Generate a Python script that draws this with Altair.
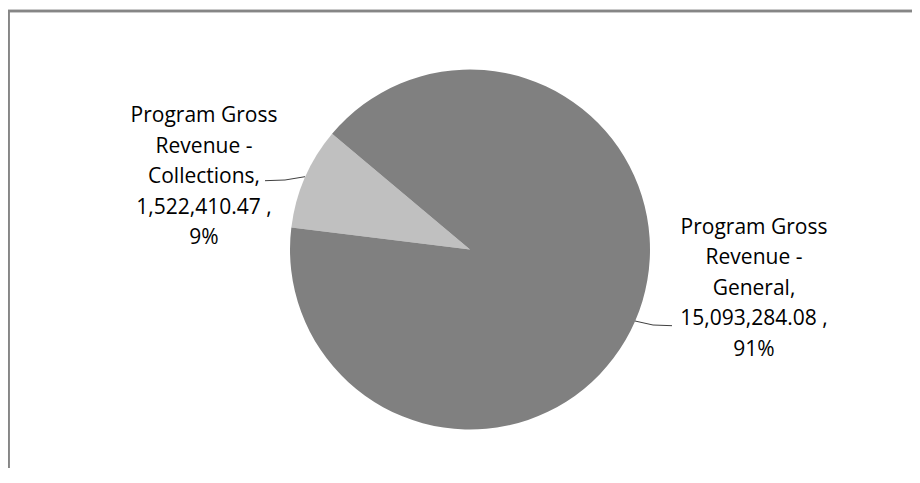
import math
import altair as alt
import pandas as pd

# ---- data ----
categories = ["Program Gross Revenue - Collections", "Program Gross Revenue - General"]
values = [1522410.47, 15093284.08]
slice_colors = ["#c0c0c0", "#808080"]

total = sum(values)
labels = []
for name, v in zip(categories, values):
    head, tail = name.split(" - ")
    first, second = head.rsplit(" ", 1)
    pct = round(100 * v / total)
    labels.append(f"{first}\n{second} -\n{tail},\n{v:,.2f} ,\n{pct}%")

df = pd.DataFrame({
    "category": categories,
    "value": values,
    "order": list(range(len(categories))),
    "label": labels,
})

# ---- layout ----
W, H = 904, 460
CX, CY, R = 462, 241.5, 180
start = math.radians(277)

arc = alt.Chart(df).mark_arc(outerRadius=R).encode(
    theta=alt.Theta("value:Q", stack=True,
                    scale=alt.Scale(range=[start, start + 2 * math.pi])),
    color=alt.Color("category:N", legend=None,
                    scale=alt.Scale(domain=categories, range=slice_colors)),
    order=alt.Order("order:Q"),
    x=alt.value(CX),
    y=alt.value(CY),
)

def label_layer(cat, x, y):
    return alt.Chart(df).transform_filter(
        alt.datum.category == cat
    ).mark_text(
        font="Open Sans", fontSize=21, lineBreak="\n", lineHeight=30.6,
        align="center", baseline="alphabetic", color="#000000",
    ).encode(text="label:N", x=alt.value(x), y=alt.value(y))

lab_c = label_layer(categories[0], 196, 114)
lab_g = label_layer(categories[1], 746, 225.5)

leader_c = pd.DataFrame({"px": [257, 277, 297], "py": [172.7, 172, 168.7], "k": [0, 1, 2]})
leader_g = pd.DataFrame({"px": [627, 645, 664], "py": [313, 317, 317.7], "k": [0, 1, 2]})

def leader(d):
    return alt.Chart(d).mark_line(color="#404040", strokeWidth=1).encode(
        x=alt.X("px:Q", scale=None), y=alt.Y("py:Q", scale=None), order="k:Q")

frame_top = alt.Chart(df).mark_rule(color="#868686", strokeWidth=2.5).encode(
    x=alt.value(0), x2=alt.value(W), y=alt.value(3))
frame_left = alt.Chart(df).mark_rule(color="#868686", strokeWidth=2.5).encode(
    x=alt.value(0.5), y=alt.value(2), y2=alt.value(H))

chart = alt.layer(
    arc, leader(leader_c), leader(leader_g), lab_c, lab_g, frame_top, frame_left
).properties(
    width=W, height=H, autosize=alt.AutoSizeParams(type="none"), padding=0,
    background="white",
).configure_view(stroke=None)

chart.save("out.html", embed_options={"renderer": "svg", "actions": False})
